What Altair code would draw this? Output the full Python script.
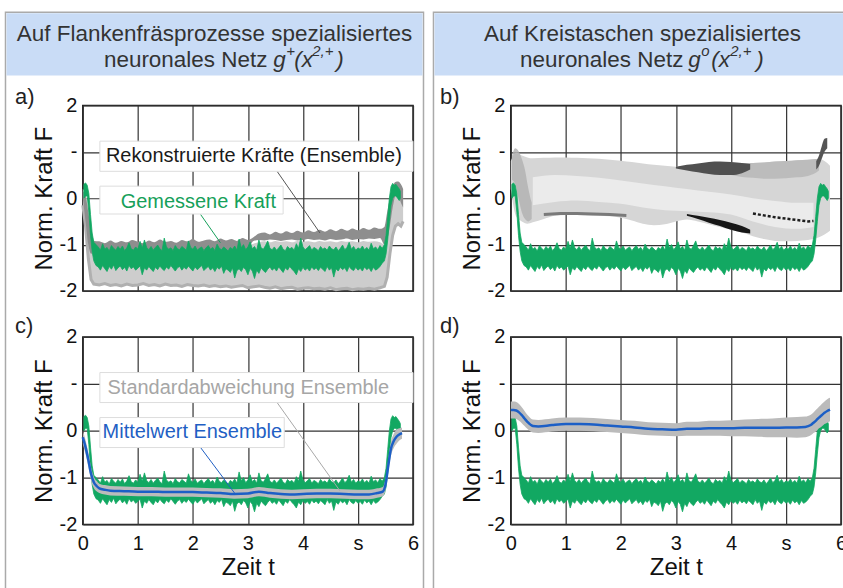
import altair as alt
import pandas as pd

FONT = "Liberation Sans"
GREEN = "#12a862"
BLUE = "#1c5fc6"

X_TICKS = [0, 1, 2, 3, 4, 5, 6]
Y_TICKS = [-2, -1, 0, 1, 2]

# ---------------- measured force (same in all four panels) ----------------
g_t_start = [0.02, 0.05, 0.08, 0.11, 0.14, 0.17, 0.20, 0.24]
g_hi_start = [0.30, 0.33, 0.28, 0.10, -0.35, -0.75, -0.95, -1.00]
g_lo_start = [0.00, 0.05, 0.05, -0.30, -0.80, -1.15, -1.35, -1.45]
g_t_mid = [round(0.28 + 0.04 * i, 2) for i in range(130)]
g_hi_mid = [
    -1.05, -1.12, -0.98, -1.10, -1.06, -1.14, -1.02, -1.08, -1.12, -1.04,
    -1.10, -1.03, -1.13, -1.07, -0.96, -1.09, -1.12, -1.05, -1.10, -0.93,
    -1.08, -0.90, -1.06, -1.11, -1.04, -1.12, -1.06, -1.01, -1.09, -1.13,
    -0.86, -1.05, -1.10, -1.07, -1.13, -1.02, -1.09, -1.11, -1.04, -1.08,
    -1.12, -0.92, -1.06, -1.10, -1.03, -1.12, -1.08, -1.05, -1.13, -1.07,
    -1.02, -1.10, -1.06, -1.13, -0.99, -1.08, -1.11, -1.05, -1.09, -1.14,
    -1.06, -1.10, -1.03, -1.12, -0.88, -1.07, -1.00, -1.11, -1.05, -0.94,
    -1.09, -1.04, -1.12, -0.90, -1.07, -1.10, -1.02, -0.92, -1.08, -1.11,
    -1.05, -1.12, -1.07, -1.01, -1.10, -1.13, -1.04, -1.09, -1.06, -1.12,
    -0.98, -1.08, -0.86, -1.05, -1.11, -1.07, -1.02, -1.12, -1.06, -1.09,
    -1.13, -1.04, -1.10, -1.07, -1.12, -1.03, -1.09, -1.11, -1.05, -1.13,
    -1.08, -1.01, -1.11, -1.06, -0.95, -1.10, -1.04, -1.12, -1.07, -1.10,
    -1.03, -1.11, -1.06, -1.12, -0.97, -1.09, -1.05, -1.11, -1.02, -1.08,
]
g_lo_mid = [
    -1.48, -1.55, -1.45, -1.52, -1.58, -1.47, -1.53, -1.44, -1.56, -1.50,
    -1.46, -1.54, -1.49, -1.57, -1.45, -1.52, -1.48, -1.55, -1.51, -1.46,
    -1.65, -1.50, -1.55, -1.47, -1.53, -1.58, -1.49, -1.54, -1.46, -1.52,
    -1.56, -1.48, -1.53, -1.45, -1.51, -1.57, -1.50, -1.47, -1.55, -1.49,
    -1.53, -1.46, -1.52, -1.57, -1.48, -1.54, -1.50, -1.45, -1.56, -1.51,
    -1.47, -1.55, -1.50, -1.58, -1.49, -1.53, -1.46, -1.62, -1.52, -1.55,
    -1.60, -1.50, -1.72, -1.56, -1.52, -1.58, -1.49, -1.54, -1.65, -1.51,
    -1.57, -1.73, -1.55, -1.62, -1.50, -1.56, -1.60, -1.53, -1.48, -1.55,
    -1.51, -1.57, -1.48, -1.54, -1.60, -1.50, -1.55, -1.47, -1.53, -1.58,
    -1.65, -1.52, -1.58, -1.49, -1.55, -1.51, -1.57, -1.48, -1.54, -1.50,
    -1.56, -1.49, -1.53, -1.58, -1.47, -1.55, -1.50, -1.70, -1.52, -1.57,
    -1.49, -1.54, -1.50, -1.58, -1.47, -1.53, -1.56, -1.49, -1.55, -1.51,
    -1.57, -1.48, -1.54, -1.50, -1.58, -1.49, -1.55, -1.52, -1.47, -1.40,
]
g_t_end = [5.48, 5.51, 5.54, 5.57, 5.60, 5.63, 5.66, 5.69, 5.72, 5.75, 5.77]
g_hi_end = [-1.00, -0.80, -0.40, 0.00, 0.25, 0.32, 0.28, 0.30, 0.25, 0.20, 0.15]
g_lo_end = [-1.35, -1.20, -0.90, -0.50, -0.15, 0.00, 0.05, 0.05, 0.00, -0.05, 0.00]

# ---------------- panel a: reconstructed forces (ensemble) ----------------
ta = [0.0, 0.05, 0.10, 0.15, 0.20] + [round(0.3 + 0.1 * i, 1) for i in range(52)] + \
     [5.48, 5.53, 5.58, 5.63, 5.68, 5.73, 5.78, 5.82]
aL_hi = [0.20, 0.10, -0.20, -0.60, -0.90] + [
    -1.00, -1.02, -0.99, -1.01, -1.00, -1.03, -0.99, -1.01, -1.00, -1.02,
    -0.99, -1.01, -1.00, -1.02, -0.98, -1.01, -1.00, -1.02, -0.99, -1.01,
    -1.00, -0.98, -1.01, -0.99, -1.00, -1.02, -0.99, -1.01, -0.98, -0.95,
    -0.93, -0.95, -0.92, -0.94, -0.93, -0.95, -0.92, -0.94, -0.93, -0.95,
    -0.92, -0.94, -0.93, -0.95, -0.92, -0.94, -0.93, -0.95, -0.92, -0.94,
    -0.93, -0.95] + [-1.00, -0.70, -0.20, 0.15, 0.25, 0.25, 0.10, 0.00]
aL_lo = [-0.15, -0.60, -1.30, -1.75, -1.85] + [
    -1.87, -1.84, -1.88, -1.86, -1.89, -1.85, -1.88, -1.87, -1.84, -1.88,
    -1.86, -1.89, -1.85, -1.88, -1.87, -1.90, -1.86, -1.88, -1.89, -1.87,
    -1.90, -1.88, -1.91, -1.89, -1.92, -1.90, -1.88, -1.93, -1.91, -1.89,
    -1.92, -1.94, -1.91, -1.95, -1.93, -1.92, -1.96, -1.94, -1.93, -1.95,
    -1.94, -1.96, -1.93, -1.97, -1.95, -1.94, -1.97, -1.95, -1.96, -1.94,
    -1.96, -1.93] + [-1.90, -1.70, -1.20, -0.80, -0.60, -0.55, -0.60, -0.50]
aD_hi = [0.15, 0.05, -0.30, -0.70, -0.92] + [
    -0.93, -0.97, -0.91, -0.96, -0.92, -0.95, -0.90, -0.94, -0.97, -0.91,
    -0.95, -0.89, -0.94, -0.92, -0.96, -0.90, -0.93, -0.88, -0.94, -0.91,
    -0.89, -0.93, -0.87, -0.91, -0.88, -0.92, -0.86, -0.90, -0.84, -0.76,
    -0.74, -0.78, -0.72, -0.76, -0.71, -0.75, -0.70, -0.74, -0.69, -0.73,
    -0.68, -0.72, -0.67, -0.71, -0.66, -0.70, -0.65, -0.69, -0.64, -0.68,
    -0.63, -0.66] + [-0.62, -0.30, 0.00, 0.25, 0.35, 0.36, 0.30, 0.20]
aD_lo = [0.00, -0.50, -1.00, -1.20, -1.15] + [
    -1.15, -1.14, -1.16, -1.15, -1.13, -1.15, -1.16, -1.14, -1.15, -1.13,
    -1.15, -1.14, -1.16, -1.15, -1.13, -1.15, -1.14, -1.16, -1.15, -1.13,
    -1.15, -1.14, -1.16, -1.15, -1.13, -1.15, -1.14, -1.10, -0.92, -0.90,
    -0.91, -0.89, -0.90, -0.92, -0.90, -0.89, -0.91, -0.90, -0.88, -0.90,
    -0.89, -0.91, -0.88, -0.90, -0.89, -0.87, -0.90, -0.88, -0.89, -0.87,
    -0.88, -0.86] + [-1.00, -0.90, -0.60, -0.20, 0.05, 0.10, -0.10, -0.20]

# ---------------- panel b: ensemble of the other network ----------------
tb = [0.0, 0.1, 0.2, 0.3, 0.4, 0.6, 0.8, 1.0, 1.2, 1.4, 1.6, 1.8, 2.0, 2.2, 2.4,
      2.6, 2.8, 3.0, 3.2, 3.4, 3.6, 3.8, 4.0, 4.2, 4.4, 4.6, 4.8, 5.0, 5.2, 5.4,
      5.5, 5.6, 5.7, 5.8]
b1_hi = [0.80, 0.98, 0.92, 0.88, 0.86, 0.87, 0.88, 0.88, 0.87, 0.86, 0.85, 0.83,
         0.81, 0.78, 0.75, 0.72, 0.70, 0.68, 0.70, 0.73, 0.76, 0.77, 0.77, 0.76,
         0.76, 0.77, 0.79, 0.80, 0.82, 0.83, 0.84, 0.85, 0.80, 0.70]
b1_lo = [0.20, -0.40, -0.50, -0.55, -0.52, -0.45, -0.38, -0.36, -0.36, -0.37,
         -0.38, -0.39, -0.42, -0.48, -0.55, -0.58, -0.56, -0.50, -0.46, -0.50,
         -0.56, -0.62, -0.68, -0.74, -0.82, -0.88, -0.92, -0.93, -0.92, -0.90,
         -0.88, -0.84, -0.78, -0.70]
tb2 = [0.4, 0.8, 1.2, 1.6, 2.0, 2.4, 2.8, 3.2, 3.6, 4.0, 4.4, 4.8, 5.2, 5.5]
b2_hi = [0.45, 0.50, 0.48, 0.44, 0.38, 0.32, 0.26, 0.20, 0.14, 0.08, 0.00, -0.06, -0.10, -0.10]
b2_lo = [-0.15, -0.08, -0.05, -0.08, -0.12, -0.20, -0.26, -0.28, -0.30, -0.35, -0.50, -0.62, -0.66, -0.62]
tb3 = [3.8, 4.0, 4.2, 4.4, 4.6, 4.8, 5.0, 5.2, 5.4, 5.5, 5.6]
b3_hi = [0.74, 0.76, 0.76, 0.76, 0.77, 0.79, 0.80, 0.82, 0.83, 0.84, 0.85]
b3_lo = [0.55, 0.50, 0.46, 0.44, 0.42, 0.42, 0.43, 0.45, 0.48, 0.52, 0.60]
tb4 = [3.0, 3.2, 3.4, 3.6, 3.8, 4.0, 4.2, 4.35]
b4_hi = [0.68, 0.72, 0.75, 0.78, 0.79, 0.78, 0.76, 0.74]
b4_lo = [0.64, 0.60, 0.56, 0.52, 0.50, 0.50, 0.54, 0.62]
tb5 = [3.2, 3.4, 3.6, 3.8, 4.0, 4.2, 4.35]
b5_hi = [-0.34, -0.38, -0.42, -0.47, -0.53, -0.60, -0.68]
b5_lo = [-0.38, -0.45, -0.53, -0.60, -0.68, -0.74, -0.76]
tb6 = [0.6, 0.9, 1.2, 1.5, 1.8, 2.1]
b6_v = [-0.35, -0.33, -0.33, -0.34, -0.35, -0.37]
tb7 = [4.4, 4.6, 4.8, 5.0, 5.2, 5.4, 5.5]
b7_v = [-0.33, -0.37, -0.41, -0.44, -0.47, -0.50, -0.49]
tb8 = [0.02, 0.08, 0.14, 0.20, 0.26, 0.32, 0.38]
b8_hi = [0.90, 1.08, 1.02, 0.85, 0.60, 0.20, -0.10]
b8_lo = [0.40, 0.30, 0.00, -0.30, -0.45, -0.50, -0.45]
tb9 = [5.55, 5.60, 5.65, 5.70, 5.75]
b9_hi = [0.80, 0.92, 1.12, 1.28, 1.30]
b9_lo = [0.62, 0.70, 0.85, 1.00, 1.08]

# ---------------- panels c / d: ensemble mean and std ----------------
tc = [0.0, 0.05, 0.1, 0.15, 0.2, 0.25, 0.3, 0.4, 0.5, 0.75, 1.0, 1.25, 1.5, 1.75,
      2.0, 2.25, 2.5, 2.75, 3.0, 3.2, 3.4, 3.6, 3.8, 4.0, 4.25, 4.5, 4.75, 5.0,
      5.2, 5.35, 5.45, 5.5, 5.55, 5.6, 5.65, 5.7, 5.75, 5.8]
mean_c = [-0.14, -0.35, -0.62, -0.92, -1.10, -1.18, -1.23, -1.26, -1.28, -1.29,
          -1.30, -1.30, -1.31, -1.31, -1.31, -1.32, -1.33, -1.35, -1.34, -1.30,
          -1.33, -1.35, -1.36, -1.35, -1.34, -1.34, -1.35, -1.36, -1.36, -1.33,
          -1.30, -1.15, -0.75, -0.38, -0.22, -0.13, -0.08, -0.05]
sd_c = [0.15, 0.15, 0.15, 0.14, 0.12, 0.11, 0.10, 0.10, 0.10, 0.10,
        0.10, 0.10, 0.10, 0.10, 0.10, 0.10, 0.10, 0.10, 0.10, 0.10,
        0.10, 0.10, 0.10, 0.10, 0.10, 0.10, 0.10, 0.10, 0.10, 0.10,
        0.10, 0.12, 0.14, 0.15, 0.15, 0.15, 0.13, 0.12]
mean_d = [0.44, 0.44, 0.43, 0.39, 0.33, 0.26, 0.19, 0.10, 0.09, 0.12,
          0.14, 0.14, 0.13, 0.11, 0.09, 0.07, 0.04, 0.03, 0.02, 0.04,
          0.04, 0.05, 0.05, 0.05, 0.06, 0.06, 0.06, 0.07, 0.07, 0.08,
          0.12, 0.17, 0.22, 0.28, 0.33, 0.38, 0.42, 0.45]
sd_d = [0.18, 0.18, 0.18, 0.18, 0.17, 0.16, 0.15, 0.14, 0.14, 0.14,
        0.14, 0.14, 0.14, 0.14, 0.14, 0.14, 0.14, 0.14, 0.14, 0.15,
        0.15, 0.16, 0.16, 0.17, 0.18, 0.19, 0.20, 0.21, 0.22, 0.22,
        0.22, 0.22, 0.23, 0.23, 0.24, 0.24, 0.25, 0.25]

# ---------------- annotations (data coordinates) ----------------
ann_a_box = pd.DataFrame({"t1": [0.31, 0.31], "t2": [6.0, 3.64], "v1": [1.23, 0.26], "v2": [0.58, -0.34]})
ann_a_txt = pd.DataFrame({"t": [0.42, 0.69], "v": [0.78, -0.21],
                          "label": ["Rekonstruierte Kräfte (Ensemble)", "Gemessene Kraft"],
                          "col": ["#1a1a1a", "#16a05a"]})
ann_a_lead = pd.DataFrame({"t1": [3.53, 2.14], "v1": [0.58, -0.35], "t2": [4.31, 2.50], "v2": [-0.75, -0.96],
                           "col": ["#555555", "#16a05a"]})
ann_c_box = pd.DataFrame({"t1": [0.31, 0.31], "t2": [6.0, 3.66], "v1": [1.24, 0.28], "v2": [0.60, -0.36]})
ann_c_txt = pd.DataFrame({"t": [0.45, 0.36], "v": [0.79, -0.16],
                          "label": ["Standardabweichung Ensemble", "Mittelwert Ensemble"],
                          "col": ["#a6a6a6", "#1f5fc4"]})
ann_c_lead = pd.DataFrame({"t1": [3.53, 2.14], "v1": [0.60, -0.36], "t2": [4.67, 2.77], "v2": [-1.28, -1.35],
                           "col": ["#a8a8a8", "#1f5fc4"]})

# ---------------- helpers ----------------
green_df = pd.DataFrame({"t": g_t_start + g_t_mid + g_t_end,
                         "hi": g_hi_start + g_hi_mid + g_hi_end,
                         "lo": g_lo_start + g_lo_mid + g_lo_end})

XS = alt.Scale(domain=[0, 6], nice=False, zero=False)
YS = alt.Scale(domain=[-2, 2], nice=False, zero=False)
Y_LABEL = "datum.value == 1 ? '-' : (datum.value < 0 ? '-' + toString(-datum.value) : toString(datum.value))"
AX_BOTTOM = alt.Axis(values=X_TICKS, title="Zeit t", grid=True, labelFlush=False,
                     labelExpr="datum.value == 5 ? 's' : toString(datum.value)",
                     labelPadding=9, titlePadding=2)
AX_TOP = alt.Axis(values=X_TICKS, title=None, labels=False, grid=True)
AX_Y = alt.Axis(values=Y_TICKS, title="Norm. Kraft F", grid=True, labelExpr=Y_LABEL,
                labelPadding=6, titlePadding=3)
ONE = alt.Data(values=[{}])


def ex(field, bottom):
    return alt.X(f"{field}:Q", scale=XS, axis=AX_BOTTOM if bottom else AX_TOP)


def ey(field):
    return alt.Y(f"{field}:Q", scale=YS, axis=AX_Y)


def band(t, hi, lo, color, bottom, opacity=1.0):
    df = pd.DataFrame({"t": t, "hi": hi, "lo": lo})
    return alt.Chart(df).mark_area(color=color, opacity=opacity, interpolate="monotone").encode(
        x=ex("t", bottom), y=ey("hi"), y2="lo:Q")


def green(bottom):
    return alt.Chart(green_df).mark_area(color=GREEN, stroke=GREEN, strokeWidth=0.8,
                                         interpolate="linear").encode(
        x=ex("t", bottom), y=ey("hi"), y2="lo:Q")


def annotations(box, txt, lead, bottom):
    boxes = alt.Chart(box).mark_rect(fill="white", stroke="#dddddd", strokeWidth=1).encode(
        x=ex("t1", bottom), x2="t2:Q", y=ey("v1"), y2="v2:Q")
    leads = alt.Chart(lead).mark_rule(strokeWidth=1).encode(
        x=ex("t1", bottom), x2="t2:Q", y=ey("v1"), y2="v2:Q", color=alt.Color("col:N", scale=None))
    texts = alt.Chart(txt).mark_text(align="left", baseline="alphabetic", font=FONT, fontSize=20).encode(
        x=ex("t", bottom), y=ey("v"), text="label:N", color=alt.Color("col:N", scale=None))
    return [leads, boxes, texts]


def column_frame(right):
    frame = alt.Chart(ONE).mark_rect(fill="white", fillOpacity=0, stroke="#aaaaaa", strokeWidth=1.5).encode(
        x=alt.value(-77.5), x2=alt.value(right), y=alt.value(-93.5), y2=alt.value(494))
    head = alt.Chart(ONE).mark_rect(fill="#c9dcf6").encode(
        x=alt.value(-76.5), x2=alt.value(right - 1), y=alt.value(-92.5), y2=alt.value(-30))
    return [frame, head]


def head_text(txt, x, y, align="left", italic=False, size=22.5):
    return alt.Chart(ONE).mark_text(text=txt, align=align, baseline="alphabetic", font=FONT,
                                    fontSize=size, color="#333333",
                                    fontStyle="italic" if italic else "normal").encode(
        x=alt.value(x), y=alt.value(y))


def formula(x_g, x_sup1, sup1, x_par, x_sup2, x_close):
    """italic g^?(x^{2,+}) drawn from pieces"""
    return [
        head_text("g", x_g, -39, italic=True),
        head_text(sup1, x_sup1, -50, italic=True, size=15),
        head_text("(x", x_par, -39, italic=True),
        head_text("2,+", x_sup2, -50, italic=True, size=15),
        head_text(")", x_close, -39, italic=True),
    ]


def panel_label(txt, x, y):
    return alt.Chart(ONE).mark_text(text=txt, align="left", baseline="alphabetic", font=FONT,
                                    fontSize=22, color="#222222").encode(x=alt.value(x), y=alt.value(y))


# ---------------- panel a ----------------
pa = alt.layer(
    *column_frame(341.5),
    head_text("Auf Flankenfräsprozesse spezialisiertes", 132, -65, align="center"),
    head_text("neuronales Netz", 185, -39, align="right"),
    *formula(191, 204, "+", 212, 230, 254),
    band(ta, aL_hi, aL_lo, "#cdcdcd", False),
    alt.Chart(pd.DataFrame({"t": ta, "lo": aL_lo})).mark_line(color="#b0b0b0", strokeWidth=3).encode(
        x=ex("t", False), y=ey("lo")),
    band(ta, aD_hi, aD_lo, "#8e8e8e", False),
    green(False),
    *annotations(ann_a_box, ann_a_txt, ann_a_lead, False),
    panel_label("a)", -68, -1),
).properties(width=331, height=186)

# ---------------- panel b ----------------
pb = alt.layer(
    *column_frame(345),
    head_text("Auf Kreistaschen spezialisiertes", 132, -65, align="center"),
    head_text("neuronales Netz", 173, -39, align="right"),
    *formula(178, 191, "o", 201, 220, 246),
    band(tb, b1_hi, b1_lo, "#d6d6d6", False),
    band(tb2, b2_hi, b2_lo, "#ebebeb", False),
    band(tb3, b3_hi, b3_lo, "#bcbcbc", False),
    band(tb8, b8_hi, b8_lo, "#b0b0b0", False, 0.8),
    band(tb4, b4_hi, b4_lo, "#505050", False),
    band(tb5, b5_hi, b5_lo, "#161616", False),
    band(tb9, b9_hi, b9_lo, "#555555", False),
    alt.Chart(pd.DataFrame({"t": tb6, "v": b6_v})).mark_line(color="#7a7a7a", strokeWidth=3).encode(
        x=ex("t", False), y=ey("v")),
    alt.Chart(pd.DataFrame({"t": tb7, "v": b7_v})).mark_line(color="#1e1e1e", strokeWidth=2.5,
                                                            strokeDash=[3, 2]).encode(
        x=ex("t", False), y=ey("v")),
    green(False),
    panel_label("b)", -71, -1),
).properties(width=331, height=186)

# ---------------- panel c ----------------
dc = pd.DataFrame({"t": tc, "m": mean_c, "hi": [m + s for m, s in zip(mean_c, sd_c)],
                   "lo": [m - s for m, s in zip(mean_c, sd_c)]})
pc = alt.layer(
    green(True),
    alt.Chart(dc).mark_area(color="#bbbbbb", interpolate="monotone").encode(
        x=ex("t", True), y=ey("hi"), y2="lo:Q"),
    alt.Chart(dc).mark_line(color=BLUE, strokeWidth=2.5, interpolate="monotone").encode(
        x=ex("t", True), y=ey("m")),
    *annotations(ann_c_box, ann_c_txt, ann_c_lead, True),
    panel_label("c)", -68, -4),
).properties(width=331, height=188)

# ---------------- panel d ----------------
dd = pd.DataFrame({"t": tc, "m": mean_d, "hi": [m + s for m, s in zip(mean_d, sd_d)],
                   "lo": [m - s for m, s in zip(mean_d, sd_d)]})
pd_ = alt.layer(
    green(True),
    alt.Chart(dd).mark_area(color="#bbbbbb", interpolate="monotone").encode(
        x=ex("t", True), y=ey("hi"), y2="lo:Q"),
    alt.Chart(dd).mark_line(color=BLUE, strokeWidth=2.5, interpolate="monotone").encode(
        x=ex("t", True), y=ey("m")),
    panel_label("d)", -71, -4),
).properties(width=331, height=188)

chart = alt.concat(pa, pb, pc, pd_, columns=2, spacing={"row": 46, "column": 98}, bounds="flush").properties(
    padding={"left": 4, "top": 10, "right": -14, "bottom": -11},
    background="white",
).configure_view(
    stroke="#1a1a1a", strokeWidth=1.5
).configure_axis(
    gridColor="#333333", gridWidth=1.2, gridOpacity=1, domain=False, ticks=False,
    labelFont=FONT, titleFont=FONT, labelFontSize=20, titleFontSize=24,
    labelColor="#111111", titleColor="#111111", titleFontWeight="normal",
)

chart.save("out.html", embed_options={"renderer": "svg", "actions": False})
